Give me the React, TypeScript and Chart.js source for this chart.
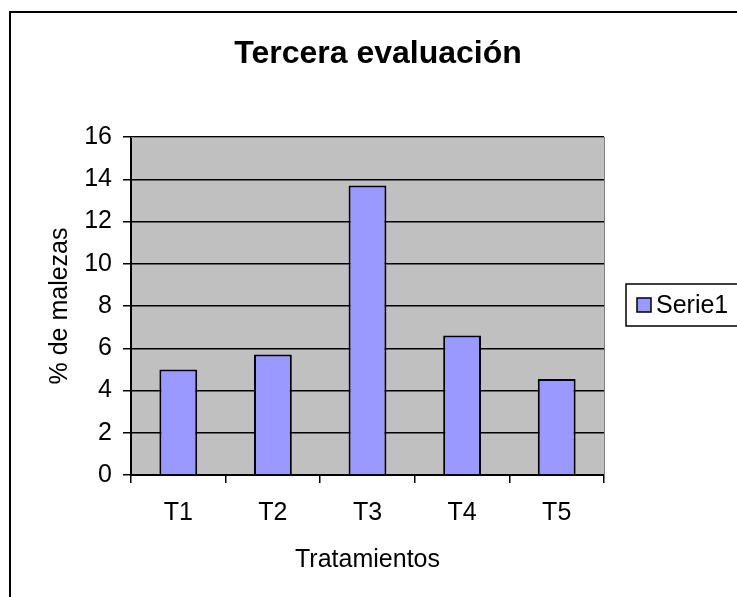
import React, { useEffect, useRef } from "react";
import { Chart, registerables } from "chart.js";

Chart.register(...registerables);

const categories = ["T1", "T2", "T3", "T4", "T5"];
const serie1 = [5.0, 5.7, 13.7, 6.6, 4.55];
const seriesLabel = "Serie1";
const chartTitle = "Tercera evaluación";
const xTitle = "Tratamientos";
const yTitle = "% de malezas";

const FONT = "'Liberation Sans', Arial, sans-serif";
const BAR_FILL = "#9999FF";

const framePlugin = {
  id: "frame",
  beforeDraw(chart: any) {
    const { ctx, chartArea } = chart;
    ctx.save();
    ctx.fillStyle = "#ffffff";
    ctx.fillRect(0, 0, chart.width, chart.height);
    ctx.fillStyle = "#C0C0C0";
    ctx.fillRect(chartArea.left, chartArea.top, chartArea.right - chartArea.left, chartArea.bottom - chartArea.top);
    ctx.restore();
  },
  afterDraw(chart: any) {
    const { ctx, chartArea } = chart;
    ctx.save();
    // title
    ctx.fillStyle = "#000";
    ctx.font = `bold 32px ${FONT}`;
    ctx.textAlign = "center";
    ctx.textBaseline = "alphabetic";
    ctx.fillText(chartTitle, 378, 63);
    // outer border
    ctx.strokeStyle = "#000";
    ctx.lineWidth = 2;
    ctx.strokeRect(10, 12, chart.width + 20, chart.height + 20);
    // plot area right/top edge (grey)
    ctx.strokeStyle = "#808080";
    ctx.lineWidth = 1;
    ctx.beginPath();
    ctx.moveTo(chartArea.right + 0.5, chartArea.top);
    ctx.lineTo(chartArea.right + 0.5, chartArea.bottom);
    ctx.moveTo(chartArea.left, chartArea.top + 0.5);
    ctx.lineTo(chartArea.right, chartArea.top + 0.5);
    ctx.stroke();
    // legend
    const ds = chart.data.datasets[0];
    const bx = 626, by = 284, bh = 42;
    ctx.fillStyle = "#fff";
    ctx.fillRect(bx, by, chart.width - bx + 20, bh);
    ctx.strokeStyle = "#000";
    ctx.lineWidth = 1.5;
    ctx.strokeRect(bx, by, chart.width - bx + 20, bh);
    ctx.fillStyle = ds.backgroundColor;
    ctx.fillRect(637, 298, 14, 14);
    ctx.lineWidth = 1.5;
    ctx.strokeRect(637, 298, 14, 14);
    ctx.fillStyle = "#000";
    ctx.font = `25px ${FONT}`;
    ctx.textBaseline = "middle";
    ctx.textAlign = "left";
    ctx.fillText(ds.label, 656, 306);
    ctx.restore();
  },
};

export default function App() {
  const ref = useRef<HTMLCanvasElement | null>(null);

  useEffect(() => {
    document.body.style.margin = "0";
    const canvas = ref.current;
    if (!canvas) return;
    const chart = new Chart(canvas, {
      type: "bar",
      data: {
        labels: categories,
        datasets: [
          {
            label: seriesLabel,
            data: serie1,
            backgroundColor: BAR_FILL,
            borderColor: "#000",
            borderWidth: 2,
            barPercentage: 0.4,
            categoryPercentage: 1,
          },
        ],
      },
      options: {
        animation: false,
        responsive: false,
        maintainAspectRatio: false,
        devicePixelRatio: 1,
        layout: { padding: { left: 0, right: 133, top: 137, bottom: 0 } },
        plugins: {
          legend: { display: false },
          tooltip: { enabled: false },
          title: { display: false },
        },
        scales: {
          x: {
            type: "category",
            offset: true,
            afterFit(scale: any) {
              scale.height = 122;
            },
            grid: {
              offset: true,
              drawOnChartArea: false,
              drawTicks: true,
              tickLength: 8,
              color: "#000",
              lineWidth: 1.5,
            },
            border: { display: true, color: "#000", width: 2 },
            ticks: {
              color: "#000",
              font: { family: FONT, size: 25 },
              padding: 15,
              maxRotation: 0,
            },
            title: {
              display: true,
              text: xTitle,
              color: "#000",
              font: { family: FONT, size: 25 },
              padding: { top: 0, bottom: 22 },
            },
          },
          y: {
            min: 0,
            max: 16,
            afterFit(scale: any) {
              scale.width = 131;
            },
            ticks: {
              stepSize: 2,
              color: "#000",
              font: { family: FONT, size: 25 },
              padding: 11,
            },
            grid: {
              color: "#000",
              lineWidth: 1.5,
              drawTicks: true,
              tickLength: 8,
            },
            border: { display: true, color: "#000", width: 2 },
            title: {
              display: true,
              text: yTitle,
              color: "#000",
              font: { family: FONT, size: 25 },
              padding: { top: 45, bottom: 0 },
            },
          },
        },
      },
      plugins: [framePlugin],
    });
    return () => chart.destroy();
  }, []);

  return (
    <div style={{ position: "fixed", left: 0, top: 0, width: 737, height: 597 }}>
      <canvas ref={ref} width={737} height={597} style={{ display: "block" }} />
    </div>
  );
}
